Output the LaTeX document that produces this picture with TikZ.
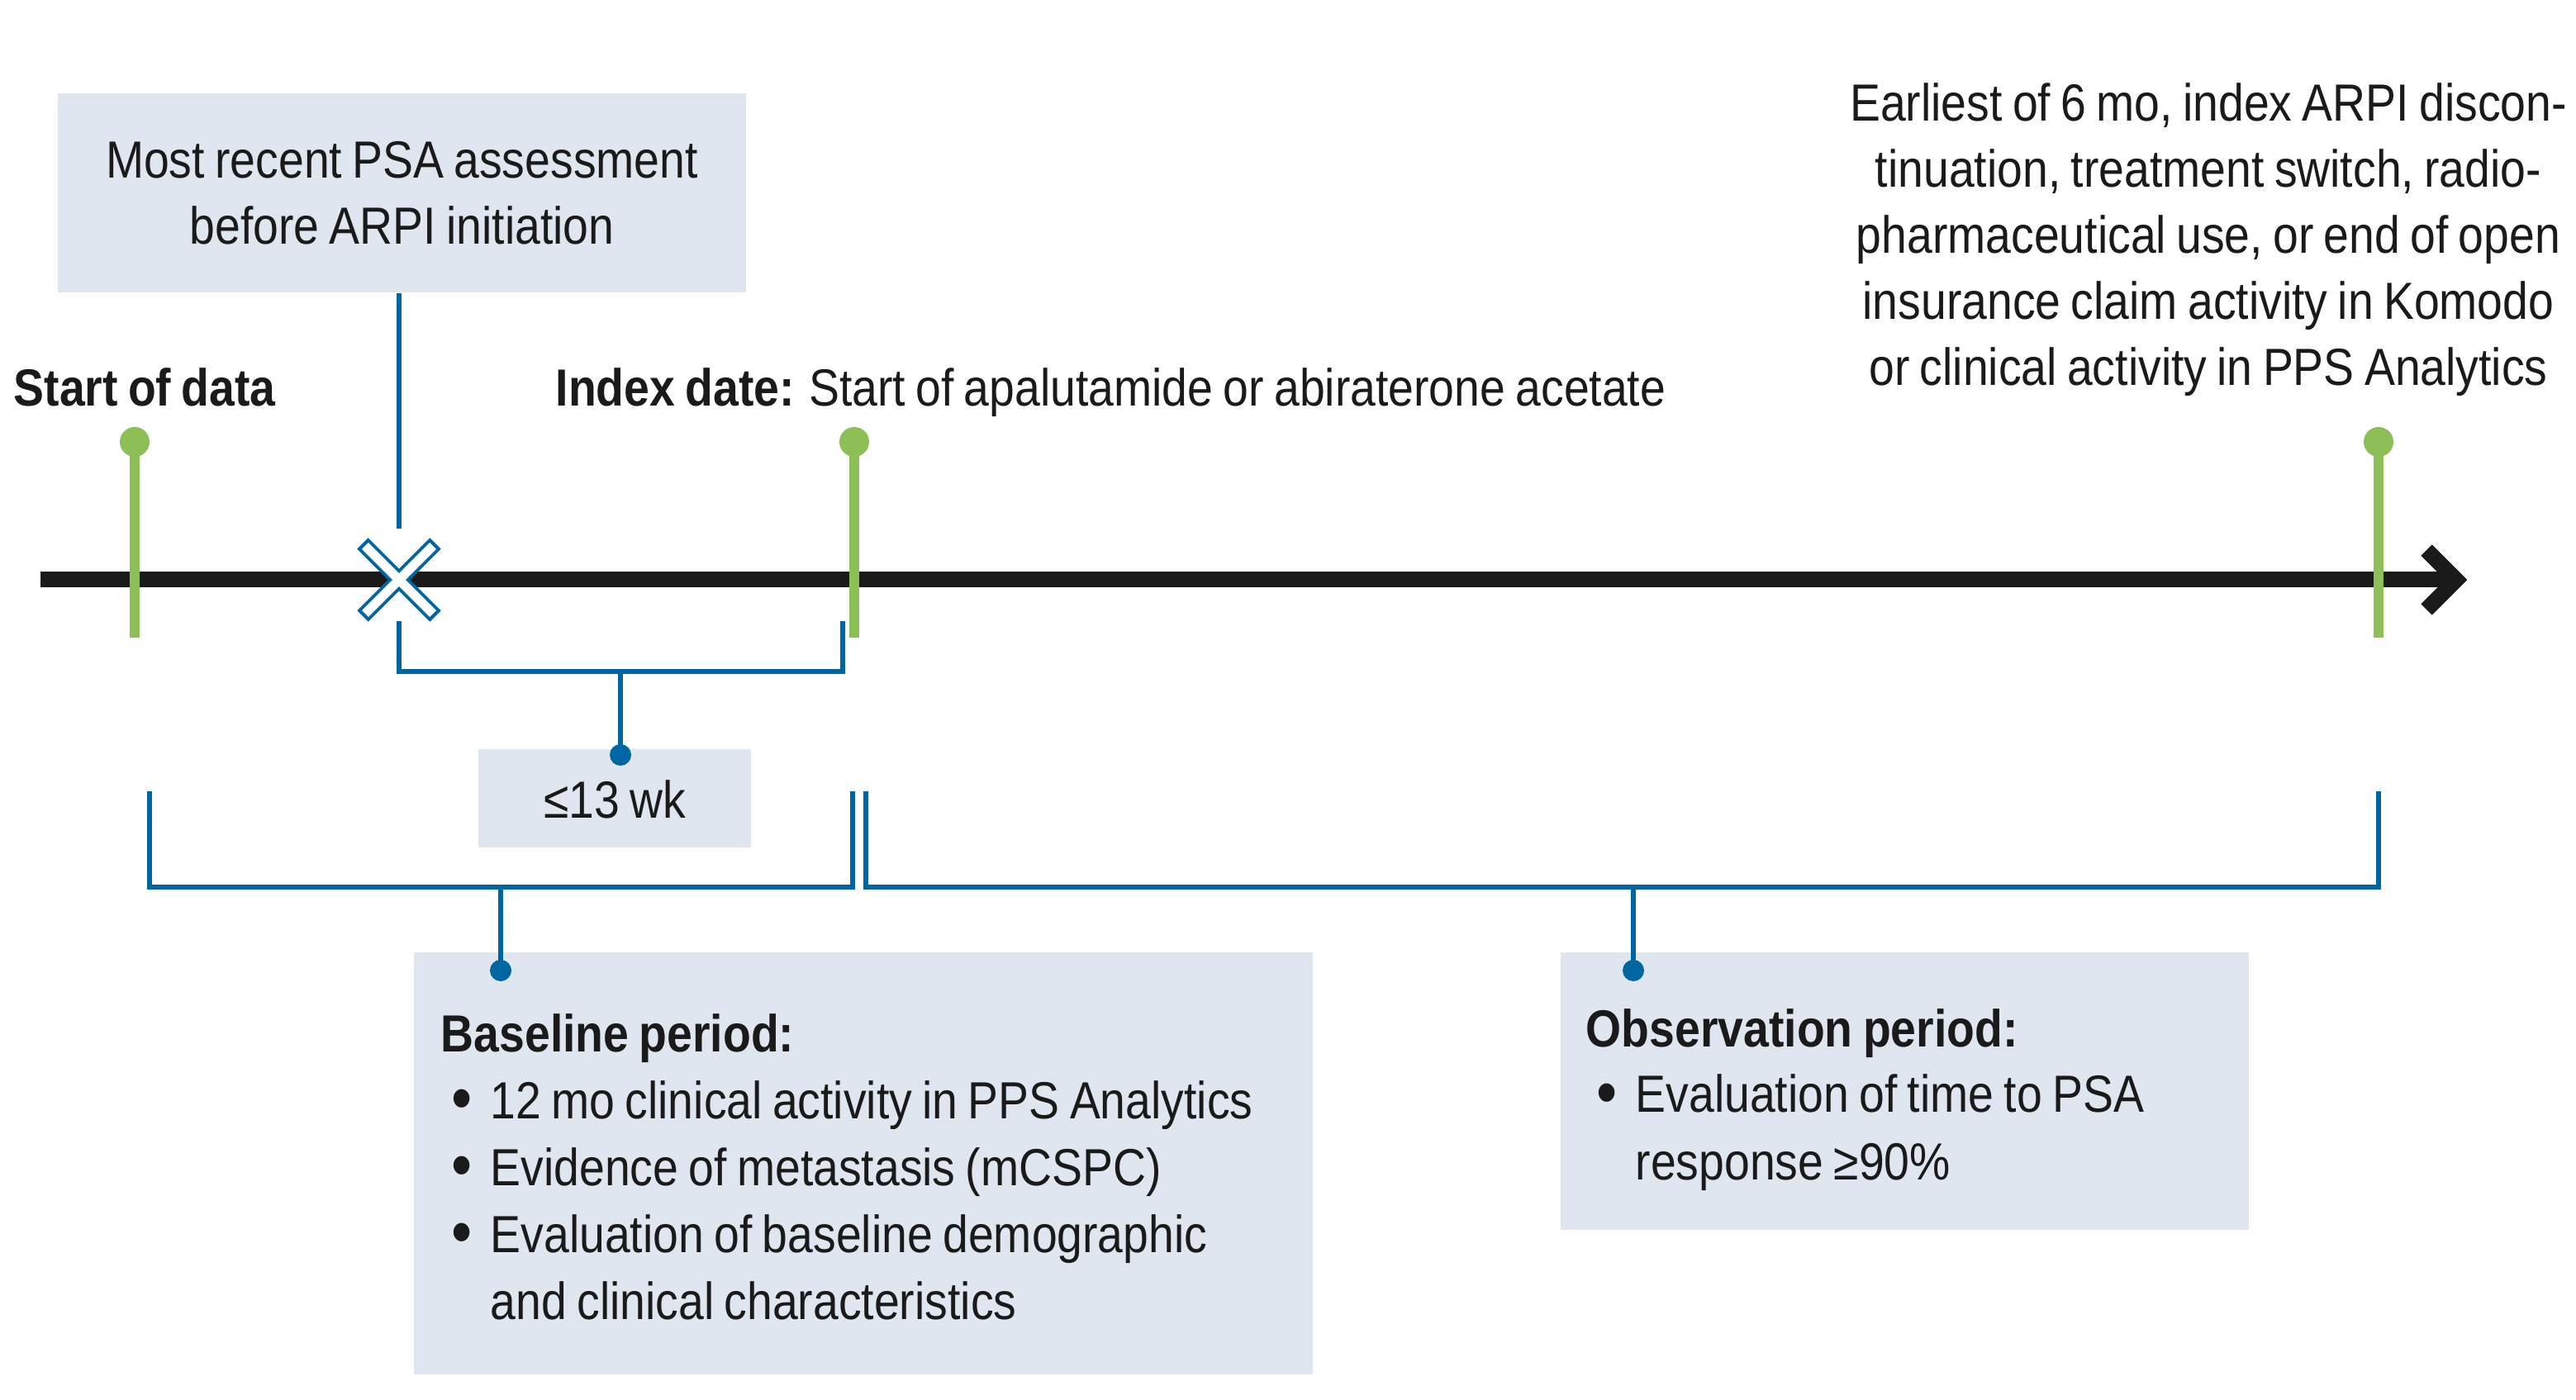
\documentclass[tikz,border=0pt]{standalone}
\usepackage{fontspec}
\usepackage{graphicx}
\setmainfont[FakeStretch=0.875, WordSpace=0.8]{Liberation Sans}
\usetikzlibrary{positioning}

\definecolor{inkblack}{HTML}{1A1A1A}
\definecolor{markblue}{HTML}{0066A1}
\definecolor{pingreen}{HTML}{8CBF55}
\definecolor{boxgray}{HTML}{DFE6EF}

\newcommand{\bul}{\makebox[0.47cm][l]{\raisebox{-0.06em}{\scalebox{1.3}{\textbullet}}}}

\begin{document}
\begin{tikzpicture}[
    axis/.style={inkblack, line width=0.19cm},
    axishead/.style={inkblack, line width=0.19cm, miter limit=10},
    pin/.style={pingreen, line width=0.125cm},
    brk/.style={markblue, line width=0.06cm},
    xout/.style={markblue, line width=0.19cm},
    xin/.style={white, line width=0.11cm},
    infobox/.style={fill=boxgray, inner sep=0pt},
    txt/.style={font=\fontsize{18}{22.8}\selectfont, text=inkblack, inner sep=0pt},
    boxtxt/.style={txt, align=center}
]

\useasboundingbox (0,0) rectangle (31.18,16.94);

% Positions
\def\yT{9.92}
\def\xS{1.63}
\def\xI{10.34}
\def\xE{28.79}
\def\xP{4.83}

% ============================================================
% Timeline
% ============================================================

\draw[axis] (0.49,\yT) -- (29.73,\yT);
\draw[axishead] (29.37,\yT+0.36) -- (29.73,\yT) -- (29.37,\yT-0.36);

% Green pins
\foreach \xx in {\xS,\xI,\xE} {
    \draw[pin] (\xx,9.22) -- (\xx,11.59);
    \fill[pingreen] (\xx,11.59) circle (0.18);
}

% Labels above pins
\node[txt, anchor=base west] (starttxt) at (0.16,12.025) {\textbf{Start of data}};
\node[txt, anchor=base west] (indextxt) at (6.72,12.025)
    {\textbf{Index date:} Start of apalutamide or abiraterone acetate};
\node[boxtxt] (endtxt) at (26.73,14.04)
    {Earliest of 6 mo, index ARPI discon-\\tinuation, treatment switch, radio-\\pharmaceutical use, or end of open\\insurance claim activity in Komodo\\or clinical activity in PPS Analytics};

% ============================================================
% PSA assessment
% ============================================================

\node[infobox, minimum width=8.33cm, minimum height=2.41cm] (psabox) at (4.865,14.605) {};
\node[boxtxt] (psatxt) at (psabox) {Most recent PSA assessment\\before ARPI initiation};

\coordinate (xtop) at (\xP,10.54);
\draw[brk] (xtop |- psabox.south) -- (xtop);

% Cross mark
\draw[xout] (\xP-0.44,\yT+0.44) -- (\xP+0.44,\yT-0.44);
\draw[xout] (\xP-0.44,\yT-0.44) -- (\xP+0.44,\yT+0.44);
\draw[xin] (\xP-0.41,\yT+0.41) -- (\xP+0.41,\yT-0.41);
\draw[xin] (\xP-0.41,\yT-0.41) -- (\xP+0.41,\yT+0.41);

% <= 13 wk bracket
\node[infobox, minimum width=3.30cm, minimum height=1.19cm] (wkbox) at (7.44,7.275) {};
\node[txt] (wktxt) at (7.44,7.26) {≤13 wk};
\coordinate (wkmid) at (7.51,8.81);
\coordinate (wkdot) at (7.51,7.80);
\draw[brk] (\xP,9.42) -- (\xP,8.81) -- (10.20,8.81) -- (10.20,9.42);
\draw[brk] (wkmid) -- (wkdot);
\fill[markblue] (wkdot) circle (0.13);

% ============================================================
% Baseline period
% ============================================================

\node[infobox, minimum width=10.88cm, minimum height=5.11cm] (basebox) at (10.45,2.855) {};
\coordinate (basemid) at (6.06,6.20);
\coordinate (basedot) at (6.06,5.19);
\draw[brk] (1.81,7.36) -- (1.81,6.20) -- (10.32,6.20) -- (10.32,7.36);
\draw[brk] (basemid) -- (basedot);
\fill[markblue] (basedot) circle (0.13);

\node[txt, anchor=base west] (basetit) at (5.33,4.205) {\textbf{Baseline period:}};
\node[txt, anchor=base west] (base1) at (5.46,3.40) {\bul 12 mo clinical activity in PPS Analytics};
\node[txt, anchor=base west] (base2) at (5.46,2.59) {\bul Evidence of metastasis (mCSPC)};
\node[txt, anchor=base west] (base3) at (5.46,1.78) {\bul Evaluation of baseline demographic};
\node[txt, anchor=base west] (base4) at (5.93,0.97) {and clinical characteristics};

% ============================================================
% Observation period
% ============================================================

\node[infobox, minimum width=8.33cm, minimum height=3.36cm] (obsbox) at (23.055,3.73) {};
\coordinate (obsmid) at (19.77,6.20);
\coordinate (obsdot) at (19.77,5.19);
\draw[brk] (10.48,7.36) -- (10.48,6.20) -- (\xE,6.20) -- (\xE,7.36);
\draw[brk] (obsmid) -- (obsdot);
\fill[markblue] (obsdot) circle (0.13);

\node[txt, anchor=base west] (obstit) at (19.19,4.265) {\textbf{Observation period:}};
\node[txt, anchor=base west] (obs1) at (19.32,3.475) {\bul Evaluation of time to PSA};
\node[txt, anchor=base west] (obs2) at (19.79,2.655) {response ≥90\%};

\end{tikzpicture}
\end{document}
